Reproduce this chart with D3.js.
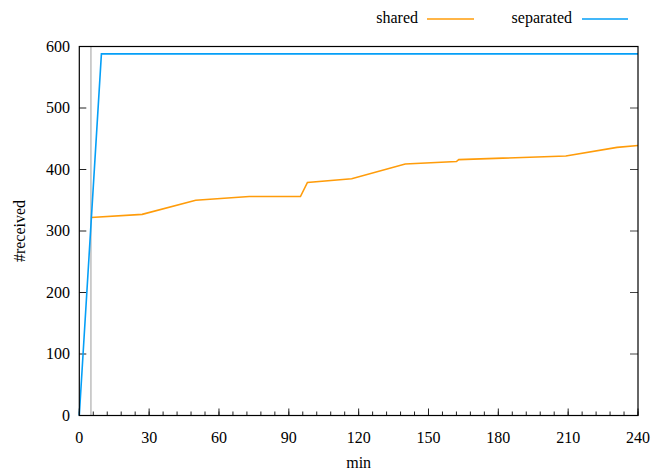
<!DOCTYPE html>
<html>
<head>
<meta charset="utf-8">
<script src="https://cdn.jsdelivr.net/npm/d3@7"></script>
<style>
body { margin: 0; background: #fff; }
text { font-family: "Liberation Serif", "DejaVu Serif", serif; font-size: 16px; fill: #000; }
</style>
</head>
<body>
<div id="vis"></div>
<script>
var w = 663;
var h = 470;

// data
var sharedMin = [5, 27, 50, 73, 95, 98, 117, 140, 162, 163, 209, 231, 240];
var sharedVal = [322, 327, 350, 356, 356, 379, 385, 409, 413, 416, 422, 436, 439];
var separatedMin = [0, 9.5, 240];
var separatedVal = [0, 588, 588];
var markerMin = 5;
var xTicks = [0, 30, 60, 90, 120, 150, 180, 210, 240];
var xMinor = d3.range(0, 241, 6);
var yTicks = [0, 100, 200, 300, 400, 500, 600];

var pLeft = 79.3, pRight = 638, pTop = 46.5, pBottom = 415.5;

var svg = d3.select("#vis")
    .append("svg")
    .attr("width", w)
    .attr("height", h);

var x = d3.scaleLinear().domain([0, 240]).range([pLeft, pRight]);
var y = d3.scaleLinear().domain([0, 600]).range([pBottom, pTop]);

//minor ticks onder
svg.selectAll(".minor")
    .data(xMinor)
    .enter()
    .append("line")
    .attr("x1", function(d) { return x(d); })
    .attr("x2", function(d) { return x(d); })
    .attr("y1", pBottom)
    .attr("y2", pBottom - 4)
    .attr("stroke", "#222")
    .attr("stroke-width", 1);

//major ticks x
svg.selectAll(".xmajor")
    .data(xTicks)
    .enter()
    .append("line")
    .attr("x1", function(d) { return x(d); })
    .attr("x2", function(d) { return x(d); })
    .attr("y1", pBottom)
    .attr("y2", pBottom - 7)
    .attr("stroke", "#222")
    .attr("stroke-width", 1);

svg.selectAll(".xlabel")
    .data(xTicks)
    .enter()
    .append("text")
    .attr("x", function(d) { return x(d); })
    .attr("y", 443)
    .attr("text-anchor", "middle")
    .text(function(d) { return d; });

//ticks y links en rechts
svg.selectAll(".yleft")
    .data(yTicks)
    .enter()
    .append("line")
    .attr("x1", pLeft)
    .attr("x2", pLeft + 7)
    .attr("y1", function(d) { return y(d); })
    .attr("y2", function(d) { return y(d); })
    .attr("stroke", "#222")
    .attr("stroke-width", 1);

svg.selectAll(".yright")
    .data(yTicks)
    .enter()
    .append("line")
    .attr("x1", pRight)
    .attr("x2", pRight - 8)
    .attr("y1", function(d) { return y(d); })
    .attr("y2", function(d) { return y(d); })
    .attr("stroke", "#444")
    .attr("stroke-width", 1);

svg.selectAll(".ylabel")
    .data(yTicks)
    .enter()
    .append("text")
    .attr("x", 70)
    .attr("y", function(d) { return y(d) + 5; })
    .attr("text-anchor", "end")
    .text(function(d) { return d; });

//grijze lijn
svg.append("line")
    .attr("x1", x(markerMin))
    .attr("x2", x(markerMin))
    .attr("y1", pTop)
    .attr("y2", pBottom)
    .attr("stroke", "#b4b4b4")
    .attr("stroke-width", 1.3);

var line = d3.line()
    .x(function(d) { return x(d[0]); })
    .y(function(d) { return y(d[1]); });

svg.append("path")
    .datum(d3.zip(sharedMin, sharedVal))
    .attr("d", line)
    .attr("fill", "none")
    .attr("stroke", "#ff9c0a")
    .attr("stroke-width", 1.6);

svg.append("path")
    .datum(d3.zip(separatedMin, separatedVal))
    .attr("d", line)
    .attr("fill", "none")
    .attr("stroke", "#059ff7")
    .attr("stroke-width", 1.6);

//kader
svg.append("rect")
    .attr("x", pLeft)
    .attr("y", pTop)
    .attr("width", pRight - pLeft)
    .attr("height", pBottom - pTop)
    .attr("fill", "none")
    .attr("stroke", "#000")
    .attr("stroke-width", 1.2);

//aslabels
svg.append("text")
    .attr("x", (pLeft + pRight) / 2)
    .attr("y", 468)
    .attr("text-anchor", "middle")
    .text("min");

svg.append("text")
    .attr("transform", "translate(25," + (pTop + pBottom) / 2 + ") rotate(-90)")
    .attr("text-anchor", "middle")
    .text("#received");

//legenda
var legend = [
    {name: "shared", color: "#ff9c0a", tx: 418, lx1: 427, lx2: 474},
    {name: "separated", color: "#059ff7", tx: 572, lx1: 582, lx2: 628}
];
legend.forEach(function(l) {
    svg.append("text")
        .attr("x", l.tx)
        .attr("y", 23)
        .attr("text-anchor", "end")
        .text(l.name);
    svg.append("line")
        .attr("x1", l.lx1)
        .attr("x2", l.lx2)
        .attr("y1", 19)
        .attr("y2", 19)
        .attr("stroke", l.color)
        .attr("stroke-width", 1.6);
});
</script>
</body>
</html>
